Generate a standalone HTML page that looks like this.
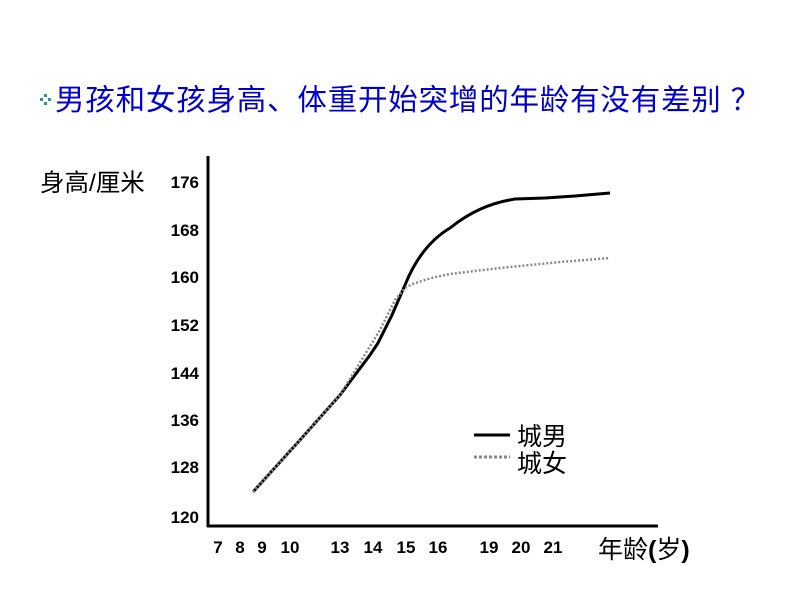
<!DOCTYPE html>
<html><head><meta charset="utf-8"><style>
body{margin:0;width:794px;height:596px;background:#fff;overflow:hidden;font-family:"Liberation Sans","Noto Sans CJK SC",sans-serif}
</style></head><body>
<svg width="794" height="596" xmlns="http://www.w3.org/2000/svg" style="position:absolute;left:0;top:0">
<g fill="#2a9a8a"><rect x="44" y="94" width="3" height="3"/><rect x="40" y="98" width="3" height="3"/><rect x="48" y="98" width="3" height="3"/><rect x="44" y="102" width="3" height="3"/></g>
<text x="55" y="110" font-size="29.5" letter-spacing="0.8" fill="#0000c8" font-family="Liberation Sans,Noto Sans CJK SC,sans-serif">男孩和女孩身高、体重开始突增的年龄有没有差别 ？</text>
<line x1="208" y1="156" x2="208" y2="527" stroke="#000" stroke-width="3"/>
<line x1="207" y1="526" x2="658" y2="526" stroke="#000" stroke-width="3"/>
<text x="40" y="191" font-size="24.5" fill="#000">身高/厘米</text>
<g font-size="17" font-weight="bold" text-anchor="end" fill="#000">
<text x="199" y="188">176</text><text x="199" y="236">168</text><text x="199" y="283">160</text><text x="199" y="331">152</text><text x="199" y="379">144</text><text x="199" y="426">136</text><text x="199" y="473">128</text><text x="199" y="523">120</text>
</g>
<g font-size="17" font-weight="bold" text-anchor="middle" fill="#000">
<text x="218" y="553">7</text><text x="240" y="553">8</text><text x="262" y="553">9</text><text x="290" y="553">10</text><text x="340" y="553">13</text><text x="373" y="553">14</text><text x="406" y="553">15</text><text x="438" y="553">16</text><text x="489" y="553">19</text><text x="521" y="553">20</text><text x="553" y="553">21</text>
</g>
<text x="598" y="558" font-size="25" fill="#000">年龄<tspan font-weight="bold">(</tspan>岁<tspan font-weight="bold">)</tspan></text>
<path d="M253,492 L300,440 L340,395 L370,355 L378,343 L392,315 L405,285 C415,260 430,240 450,228 C470,212 490,203 515,199 L545,198 L575,196 L610,193" fill="none" stroke="#000" stroke-width="3"/>
<path d="M253,492 L300,440 L340,395 L380,330 L395,300 L405,288 C415,282 430,278 450,274 L500,268 L560,262 L610,258" fill="none" stroke="#888" stroke-width="2.5" stroke-dasharray="2,2"/>
<line x1="474" y1="435" x2="510" y2="435" stroke="#000" stroke-width="3"/>
<line x1="474" y1="457" x2="510" y2="457" stroke="#888" stroke-width="3" stroke-dasharray="3,2"/>
<text x="517" y="445" font-size="25" fill="#000">城男</text>
<text x="517" y="472" font-size="25" fill="#000">城女</text>
</svg>
</body></html>
